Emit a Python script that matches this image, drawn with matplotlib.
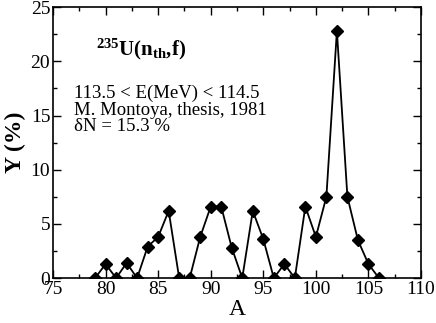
import numpy as np
import matplotlib
matplotlib.use("Agg")
import matplotlib.pyplot as plt
from matplotlib.ticker import MultipleLocator

# mass number A and yield Y (%)
mass = [79, 80, 81, 82, 83, 84, 85, 86, 87, 88, 89, 90, 91, 92,
        93, 94, 95, 96, 97, 98, 99, 100, 101, 102, 103, 104, 105, 106]
yield_pct = [0.0, 1.3, 0.0, 1.4, 0.0, 2.9, 3.8, 6.2, 0.0, 0.0, 3.8, 6.6, 6.6, 2.8,
             0.0, 6.2, 3.6, 0.0, 1.3, 0.0, 6.6, 3.8, 7.5, 22.8, 7.5, 3.5, 1.3, 0.0]

plt.rcParams["font.family"] = ["Liberation Serif", "DejaVu Serif"]
plt.rcParams["mathtext.fontset"] = "custom"
plt.rcParams["mathtext.rm"] = "Liberation Serif"
plt.rcParams["mathtext.bf"] = "Liberation Serif:bold"

fig = plt.figure(figsize=(4.36, 3.23), dpi=100)
ax = fig.add_axes([0.1216, 0.139, 0.8440, 0.839])

ax.plot(mass, yield_pct, "-", color="black", lw=1.3,
        marker="D", ms=6.5, mfc="black", mec="black")

ax.set_xlim(75, 110)
ax.set_ylim(0, 25)
ax.xaxis.set_major_locator(MultipleLocator(5))
ax.xaxis.set_minor_locator(MultipleLocator(2.5))
ax.yaxis.set_major_locator(MultipleLocator(5))
ax.yaxis.set_minor_locator(MultipleLocator(2.5))
ax.tick_params(which="both", direction="in", top=True, right=True, labelsize=14, pad=2)
ax.tick_params(which="major", length=6, width=1)
ax.tick_params(which="minor", length=3, width=1)
for s in ax.spines.values():
    s.set_linewidth(1.2)

ax.set_xlabel("A", fontsize=17, labelpad=1)
ax.set_ylabel("Y (%)", fontsize=17, fontweight="bold", labelpad=3)

ax.text(0.117, 0.845, r"$\mathbf{^{235}U(n_{th}{,}f)}$", transform=ax.transAxes,
        fontsize=15, ha="left", va="center")
ax.text(0.058, 0.527, "113.5 < E(MeV) < 114.5\nM. Montoya, thesis, 1981\nδN = 15.3 %",
        transform=ax.transAxes, fontsize=13.5, ha="left", va="bottom", linespacing=0.98)

fig.savefig("out.png", dpi=100)
